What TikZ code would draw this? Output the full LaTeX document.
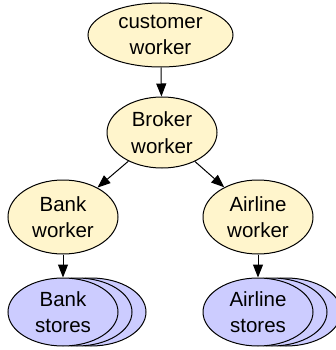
\documentclass[tikz,border=0pt]{standalone}
\usepackage{fontspec}
\setmainfont{Liberation Sans}
\usetikzlibrary{shapes.geometric,arrows.meta,shadows}
\definecolor{workeryellow}{HTML}{FFF5CC}
\definecolor{storeblue}{HTML}{CCCCFF}
\tikzset{
  worker/.style={ellipse, draw, line width=1pt, fill=workeryellow, inner sep=0pt,
    align=center, font=\fontsize{20.5}{26.5}\selectfont,
    minimum width=110pt, minimum height=72pt},
  store/.style={worker, fill=storeblue, minimum height=68pt,
    double copy shadow={shadow xshift=14pt, shadow yshift=0pt, fill=storeblue, draw=black, line width=1pt}},
  link/.style={-{Triangle[length=13pt,width=10pt]}, line width=1pt}
}
\begin{document}
\begin{tikzpicture}[x=1pt,y=-1pt]
  \useasboundingbox (0,0) rectangle (336,350);
% workers
  \node (cust) at (160.5,35) [worker, minimum width=145pt, minimum height=64pt] {customer\\worker};
  \node (broker) at (162,132.5) [worker, minimum height=71pt] {Broker\\worker};
  \node (bank) at (63,217) [worker, minimum height=74pt] {Bank\\worker};
  \node (airline) at (258,217) [worker, minimum height=74pt] {Airline\\worker};
% stores
  \node (bankst) at (63,312) [store] {Bank\\stores};
  \node (airlinest) at (258,312) [store] {Airline\\stores};
% links
  \draw [link] (cust) -- (broker);
  \draw [link] (broker) -- (bank);
  \draw [link] (broker) -- (airline);
  \draw [link] (bank) -- (bankst);
  \draw [link] (airline) -- (airlinest);
\end{tikzpicture}
\end{document}
